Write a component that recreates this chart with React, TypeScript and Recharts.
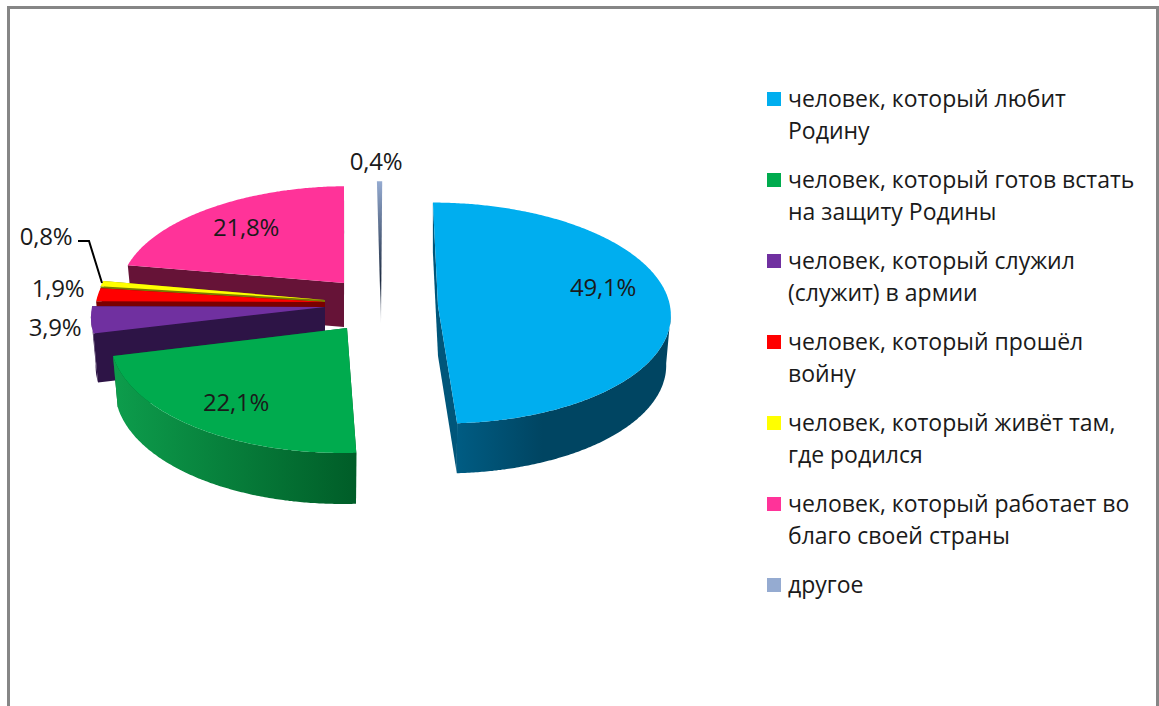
import { Legend, Pie, PieChart } from 'recharts'

const categories = [
  'человек, который любит\nРодину',
  'человек, который готов встать\nна защиту Родины',
  'человек, который служил\n(служит) в армии',
  'человек, который прошёл\nвойну',
  'человек, который живёт там,\nгде родился',
  'человек, который работает во\nблаго своей страны',
  'другое',
]
const shares = [49.1, 22.1, 3.9, 1.9, 0.8, 21.8, 0.4]
const shareLabels = ['49,1%', '22,1%', '3,9%', '1,9%', '0,8%', '21,8%', '0,4%']

const topColors = ['#00aeef', '#00ab4e', '#7030a0', '#ff0000', '#ffff00', '#ff3399', '#95abd1']
const faceColors = ['#00567a', '#00602a', '#2d1446', '#7a0000', '#7a7a00', '#661337', '#1c2a40']
const wallFrom = ['#005c83', '#0d9d4c', '#2d1446', '#7a0000', '#7a7a00', '#661337', '#1c2a40']
const wallTo = ['#004562', '#005d28', '#2d1446', '#7a0000', '#7a7a00', '#661337', '#1c2a40']
const wallStop = [0.4, 1, 1, 1, 1, 1, 1]

// recharts has no exploded 3d pie, so each slice gets its own offset and ellipse
const explode = [
  { dx: 58, dy: 6, rx: 232, ry: 110, depth: 50 },
  { dx: -33, dy: 28, rx: 236, ry: 117, depth: 51 },
  { dx: -55, dy: 7, rx: 233, ry: 110, depth: 49 },
  { dx: -55, dy: 2, rx: 229, ry: 110, depth: 49 },
  { dx: -55, dy: 0, rx: 229, ry: 110, depth: 49 },
  { dx: -36, dy: -17, rx: 223, ry: 103, depth: 44 },
  { dx: 1, dy: -22, rx: 223, ry: 103, depth: 45 },
]
const labelSpots = [
  [603, 286],
  [236, 401],
  [55, 326],
  [58, 287],
  [46, 235],
  [246, 226],
  [376, 160],
]

const PIE_CX = 380
const PIE_CY = 300
const PERSPECTIVE = 0.0636
const VIEW_X = 392
const SKEW = 0.11
const FONT = '"Open Sans", sans-serif'

// drawn back to front, so the table is reversed and the pie runs the other way round
const rows = categories
  .map((name, idx) => ({ name, value: shares[idx], idx }))
  .reverse()

function project(idx: number, angle: number, z: number) {
  const { dx, dy, rx, ry } = explode[idx]
  const cx = PIE_CX + dx
  const cy = PIE_CY + dy
  const rad = (angle * Math.PI) / 180
  const u = Math.cos(rad)
  const v = -Math.sin(rad)
  const f = 1 / (1 - PERSPECTIVE * v)
  const shrink = z > 0 ? 0.98 : 1
  return [cx + rx * u * f * shrink + (cx - VIEW_X) * SKEW * v, cy + ry * v * f + z]
}

function toPath(points: number[][]) {
  return 'M' + points.map((p) => `${p[0].toFixed(1)},${p[1].toFixed(1)}`).join('L') + 'Z'
}

function Slice3d(props: any) {
  const idx: number = props.idx ?? props.payload?.idx
  const { dx, dy, depth } = explode[idx]
  const from = Math.min(props.startAngle, props.endAngle)
  const to = Math.max(props.startAngle, props.endAngle)
  const apex = [PIE_CX + dx, PIE_CY + dy]
  const apexLow = [apex[0], apex[1] + depth]

  const angles: number[] = []
  for (let a = from; a < to; a += 0.5) angles.push(a)
  angles.push(to)

  const topArc = angles.map((a) => project(idx, a, 0))

  if (to - from < 2) {
    // the thin "другое" slice only shows as one sliver
    const tip = [apex[0], apexLow[1]]
    return (
      <g>
        <defs>
          <linearGradient id="sliver" x1="0" y1="0" x2="0" y2="1">
            <stop offset="0" stopColor={topColors[idx]} />
            <stop offset="0.7" stopColor={faceColors[idx]} />
            <stop offset="1" stopColor="#c8ccd4" />
          </linearGradient>
        </defs>
        <path d={toPath([topArc[0], topArc[topArc.length - 1], tip])} fill="url(#sliver)" />
      </g>
    )
  }

  const faceOf = (a: number) => toPath([project(idx, a, 0), apex, apexLow, project(idx, a, depth)])

  // outer wall starts where the rim turns away, a bit in front of the middle
  const front = angles.filter((a) => -Math.sin((a * Math.PI) / 180) >= PERSPECTIVE)
  const wall =
    front.length > 1
      ? toPath([
          ...front.map((a) => project(idx, a, 0)),
          ...[...front].reverse().map((a) => project(idx, a, depth)),
        ])
      : null
  const gradId = `wall-${idx}`

  return (
    <g>
      <defs>
        <linearGradient id={gradId} x1="0" y1="0" x2="1" y2="0">
          <stop offset="0" stopColor={wallFrom[idx]} />
          <stop offset={wallStop[idx]} stopColor={wallTo[idx]} />
        </linearGradient>
      </defs>
      <path d={faceOf(from)} fill={faceColors[idx]} />
      <path d={faceOf(to)} fill={faceColors[idx]} />
      {wall && <path d={wall} fill={`url(#${gradId})`} />}
      <path d={toPath([apex, ...topArc])} fill={topColors[idx]} />
    </g>
  )
}

function SliceLabel(props: any) {
  const idx: number = props.idx ?? props.payload?.idx
  const [x, y] = labelSpots[idx]
  return (
    <g>
      {idx === 4 && <polyline points="78,241 89,241 102,283" fill="none" stroke="#000" strokeWidth={2} />}
      <text
        x={x}
        y={y}
        textAnchor="middle"
        dominantBaseline="central"
        fontFamily={FONT}
        fontSize={24}
        letterSpacing={-0.2}
        fill="#1a1a1a"
      >
        {shareLabels[idx]}
      </text>
    </g>
  )
}

function LegendBlock() {
  return (
    <div style={{ fontFamily: FONT, fontSize: 23, lineHeight: '32px', color: '#1a1a1a' }}>
      {categories.map((name, idx) => (
        <div key={name} style={{ position: 'relative', paddingLeft: 21, marginBottom: 17, whiteSpace: 'pre-line' }}>
          <span
            style={{
              position: 'absolute',
              left: 0,
              top: 10,
              width: 14,
              height: 14,
              background: topColors[idx],
            }}
          />
          {name}
        </div>
      ))}
    </div>
  )
}

export default function App() {
  return (
    <div style={{ position: 'absolute', left: 0, top: 0, width: 1159, height: 706, background: '#fff', overflow: 'hidden' }}>
      <div
        style={{
          position: 'absolute',
          left: 7,
          top: 6,
          width: 1146,
          height: 720,
          borderTop: '3px solid #868686',
          borderLeft: '3px solid #868686',
          borderRight: '3px solid #868686',
        }}
      />
      <div style={{ position: 'absolute', left: 0, top: 0 }}>
        <PieChart width={1159} height={706} margin={{ top: 0, right: 0, bottom: 0, left: 0 }}>
          <Pie
            data={rows}
            dataKey="value"
            nameKey="name"
            cx={PIE_CX}
            cy={PIE_CY}
            outerRadius={232}
            startAngle={90}
            endAngle={450}
            stroke="none"
            shape={Slice3d}
            label={SliceLabel}
            labelLine={false}
            isAnimationActive={false}
          />
          <Legend
            content={LegendBlock}
            wrapperStyle={{ position: 'absolute', left: 767, top: 82, width: 385, bottom: 'auto', right: 'auto' }}
          />
        </PieChart>
      </div>
    </div>
  )
}
